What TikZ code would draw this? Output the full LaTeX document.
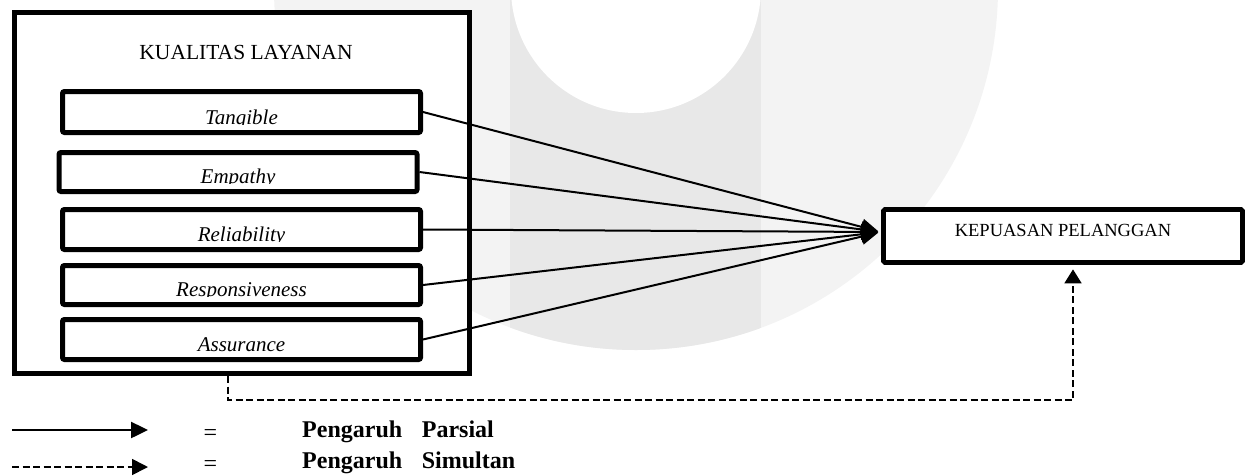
\documentclass[tikz,border=0pt]{standalone}
\usepackage{fontspec}
\setmainfont{Liberation Serif}
\usetikzlibrary{arrows.meta}

\definecolor{wmlight}{HTML}{F3F3F3}
\definecolor{wmdark}{HTML}{E8E8E8}

\begin{document}
\begin{tikzpicture}[x=1pt, y=-1pt,
    outerbox/.style={draw, fill=white, line width=5pt, minimum width=455pt, minimum height=361pt, inner sep=0pt},
    dimbox/.style={draw, fill=white, line width=5pt, rounded corners=2pt, minimum width=358pt, inner sep=0pt},
    kpbox/.style={draw, fill=white, line width=4.7pt, rounded corners=1.5pt, minimum width=359pt, minimum height=53pt, inner sep=0pt, text height=12pt, text depth=12pt, font=\fontsize{18.5}{22}\selectfont},
    lbl/.style={font=\fontsize{21}{25}\selectfont\itshape, anchor=base, inner sep=0pt},
    parsial/.style={line width=2pt, -{Triangle[length=17pt,width=16pt]}},
    simultan/.style={line width=1.7pt, dash pattern=on 7pt off 3.5pt, -{Triangle[length=14pt,width=17pt]}},
    legtxt/.style={font=\fontsize{24}{28}\selectfont\bfseries, anchor=base west, inner sep=0pt}
]
    \useasboundingbox (0,0) rectangle (1251,475);

    % Watermark
    \begin{scope}
        \clip (0,0) rectangle (1251,475);
        \begin{scope}
            \clip (636,-12) circle (362pt);
            \fill[wmlight] (0,0) rectangle (1251,475);
            \fill[wmdark] (510,0) rectangle (761,475);
        \end{scope}
        \fill[white] (636,-12) circle (125pt);
    \end{scope}

    % Boxes
    \node[outerbox] (outer) at (242,193) {};
    \node[font=\fontsize{21.5}{25}\selectfont, anchor=base, inner sep=0pt] (title) at (246,59) {KUALITAS LAYANAN};
    \foreach \n/\x/\y/\h in {tan/241.5/112/41, emp/238/172/39, rel/241.5/229.5/40, res/241.5/285/39, ass/241.5/339.5/40}
        \node[dimbox, minimum height=\h pt] (\n) at (\x,\y) {};
    \foreach \n/\t in {tan/Tangible, emp/Empathy, rel/Reliability, res/Responsiveness, ass/Assurance}{
        \begin{scope}
            \clip ([yshift=11pt]\n.south west) rectangle (\n.north east);
            \node[lbl] (\n-txt) at ([yshift=11pt]\n.south) {\t};
        \end{scope}
    }
    \node[kpbox] (kp) at (1063,236) {KEPUASAN PELANGGAN};

    % Arrows
    \coordinate (tip) at ([yshift=4pt]kp.west);
    \foreach \n in {tan,emp,rel,res,ass} \draw[parsial, shorten >=3pt] (\n.east) -- (tip);

    \coordinate (ds) at ([xshift=-14pt]outer.south);
    \coordinate (de) at ([xshift=10pt]kp.south);
    \draw[simultan, shorten >=4.5pt] (ds) -- ++(0,24) -| (de);

    % Legend
    \coordinate (l1a) at (12,430);
    \coordinate (l1b) at (148,430);
    \coordinate (l2a) at (12,467);
    \coordinate (l2b) at (148,467);
    \draw[parsial, line width=2.5pt] (l1a) -- (l1b);
    \draw[simultan, -{Triangle[length=16pt,width=16pt]}] (l2a) -- (l2b);
    \node[font=\fontsize{24}{28}\selectfont, anchor=base, inner sep=0pt] (eq1) at (210.5,440) {=};
    \node[font=\fontsize{24}{28}\selectfont, anchor=base, inner sep=0pt] (eq2) at (210.5,471) {=};
    \node[legtxt] (leg1) at (302,437) {Pengaruh\hspace{0.82em}Parsial};
    \node[legtxt] (leg2) at (302,468) {Pengaruh\hspace{0.82em}Simultan};
\end{tikzpicture}
\end{document}
